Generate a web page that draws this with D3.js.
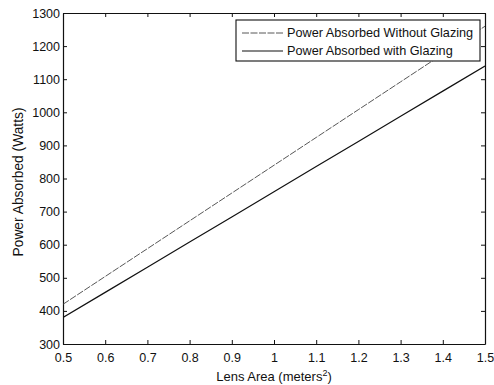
<!DOCTYPE html>
<html>
<head>
<meta charset="utf-8">
<script src="https://cdn.jsdelivr.net/npm/d3@7"></script>
<style>
  html, body { margin: 0; padding: 0; background: #fff; }
  svg { display: block; font-family: "Liberation Sans", Arial, sans-serif; }
  .axis path, .axis line { stroke: #111; }
  .axis text { fill: #111; font-size: 12.5px; }
</style>
</head>
<body>
<svg id="chart" width="494" height="385"></svg>
<script>
// lens area (m^2)
let lensArea = [0.5, 0.6, 0.7, 0.8, 0.9, 1.0, 1.1, 1.2, 1.3, 1.4, 1.5];
// power absorbed (W)
let powerWithout = [420, 504, 588, 672, 756, 840, 924, 1008, 1092, 1176, 1260];
let powerWith = [380, 456, 532, 608, 684, 760, 836, 912, 988, 1064, 1140];

let seriesNames = ["Power Absorbed Without Glazing", "Power Absorbed with Glazing"];
let xTicks = [0.5, 0.6, 0.7, 0.8, 0.9, 1, 1.1, 1.2, 1.3, 1.4, 1.5];
let yTicks = [300, 400, 500, 600, 700, 800, 900, 1000, 1100, 1200, 1300];

let svg = d3.select("#chart");
let plotL = 63, plotR = 485, plotT = 13, plotB = 344;

let x = d3.scaleLinear().domain([0.5, 1.5]).range([plotL, plotR]);
let y = d3.scaleLinear().domain([300, 1300]).range([plotB, plotT]);

svg.append("defs").append("clipPath").attr("id", "plotclip")
  .append("rect")
  .attr("x", plotL).attr("y", plotT)
  .attr("width", plotR - plotL).attr("height", plotB - plotT);

let fmt = (d) => String(d);

// axes, ticks pointing inward like matlab
svg.append("g").attr("class", "axis")
  .attr("transform", `translate(0,${plotB})`)
  .call(d3.axisBottom(x).tickValues(xTicks).tickFormat(fmt).tickSizeInner(-4).tickSizeOuter(0).tickPadding(9));

svg.append("g").attr("class", "axis")
  .attr("transform", `translate(${plotL},0)`)
  .call(d3.axisLeft(y).tickValues(yTicks).tickFormat(fmt).tickSizeInner(-4).tickSizeOuter(0).tickPadding(3));

svg.append("g").attr("class", "axis")
  .attr("transform", `translate(0,${plotT})`)
  .call(d3.axisTop(x).tickValues(xTicks).tickFormat("").tickSizeInner(-4).tickSizeOuter(0));

svg.append("g").attr("class", "axis")
  .attr("transform", `translate(${plotR},0)`)
  .call(d3.axisRight(y).tickValues(yTicks).tickFormat("").tickSizeInner(-4).tickSizeOuter(0));

svg.selectAll(".axis .domain").attr("stroke-width", 1.2);

// lines
let line = d3.line().x((d) => x(d[0])).y((d) => y(d[1]));
let plot = svg.append("g").attr("clip-path", "url(#plotclip)");

plot.append("path")
  .datum(lensArea.map((a, i) => [a, powerWithout[i]]))
  .attr("d", line)
  .attr("fill", "none")
  .attr("stroke", "#444")
  .attr("stroke-width", 0.9)
  .attr("stroke-dasharray", "7,1.5");

plot.append("path")
  .datum(lensArea.map((a, i) => [a, powerWith[i]]))
  .attr("d", line)
  .attr("fill", "none")
  .attr("stroke", "#111")
  .attr("stroke-width", 1.2);

// legend
let lg = svg.append("g");
lg.append("rect")
  .attr("x", 236).attr("y", 20)
  .attr("width", 244).attr("height", 41)
  .attr("fill", "#fff")
  .attr("stroke", "#111")
  .attr("stroke-width", 1.1);

let styles = [
  { stroke: "#444", width: 0.9, dash: "7,1.5" },
  { stroke: "#111", width: 1.2, dash: null },
];
seriesNames.forEach((name, i) => {
  let yy = 33 + i * 18;
  lg.append("line")
    .attr("x1", 242).attr("x2", 283)
    .attr("y1", yy).attr("y2", yy)
    .attr("stroke", styles[i].stroke)
    .attr("stroke-width", styles[i].width)
    .attr("stroke-dasharray", styles[i].dash);
  lg.append("text")
    .attr("x", 287).attr("y", yy)
    .attr("dy", "0.35em")
    .attr("font-size", 12.7)
    .attr("fill", "#111")
    .text(name);
});

// axis labels
let xl = svg.append("text")
  .attr("x", (plotL + plotR) / 2)
  .attr("y", 381)
  .attr("text-anchor", "middle")
  .attr("font-size", 13)
  .attr("fill", "#111");
xl.append("tspan").text("Lens Area (meters");
xl.append("tspan").attr("baseline-shift", "super").attr("font-size", 9).text("2");
xl.append("tspan").text(")");

svg.append("text")
  .attr("transform", `translate(23,182) rotate(-90)`)
  .attr("text-anchor", "middle")
  .attr("font-size", 13.8)
  .attr("fill", "#111")
  .text("Power Absorbed (Watts)");
</script>
</body>
</html>
